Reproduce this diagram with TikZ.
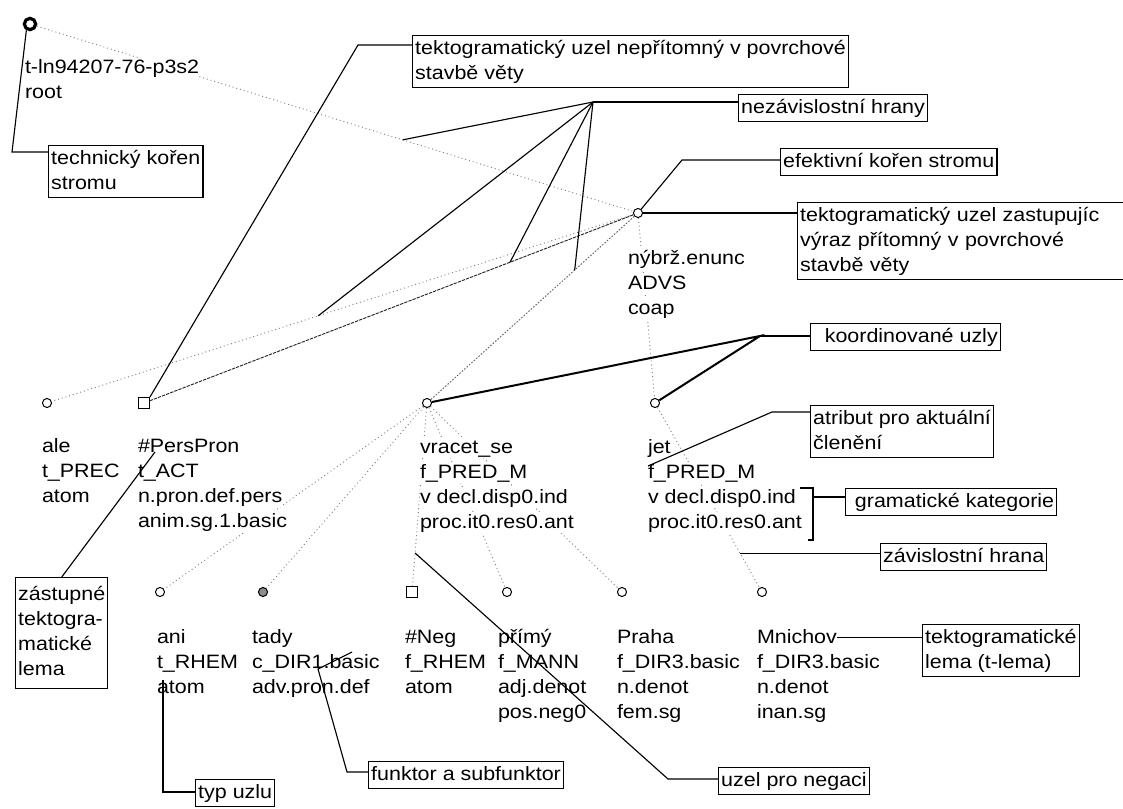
\documentclass[tikz,border=0pt]{standalone}
\usepackage{fontspec}
\setmainfont{Liberation Sans}[FakeStretch=1.11]
\usetikzlibrary{calc}

% one node per text line, each line on its own white band
\newcommand\tlines[4]{%
  \foreach \lbl [count=\i] in {#4} {%
    \node[lab] (#1-\i) at (#2, {#3+6+25*(\i-1)}) {\lbl};
  }%
}

\begin{document}
\begin{tikzpicture}[x=0.75pt, y=-0.75pt,
  font=\fontsize{14.5}{18.75}\selectfont,
  tedge/.style={draw=black!50, line width=0.7pt, dash pattern=on 0.7pt off 2.2pt},
  edgemid/.style={draw=black!60, line width=0.7pt, dash pattern=on 1.2pt off 1.2pt},
  edgedark/.style={draw=black!85, line width=0.7pt, dash pattern=on 2.5pt off 0.8pt},
  tnode/.style={circle, draw, line width=0.75pt, fill=white, inner sep=0pt, minimum size=6.8pt},
  tsq/.style={rectangle, draw, line width=0.75pt, fill=white, inner sep=0pt, minimum size=8.2pt},
  troot/.style={circle, draw, line width=2.4pt, fill=white, inner sep=0pt, minimum size=8.5pt},
  lab/.style={anchor=base west, inner sep=0pt, outer sep=0pt, fill=white, text height=12pt, text depth=4pt},
  note/.style={draw, line width=0.8pt, fill=white, anchor=north west, align=left, inner xsep=2pt, inner ysep=0.8pt},
  ptr/.style={line width=0.85pt},
  thickptr/.style={line width=1.5pt}
]
\path[use as bounding box] (0,0) rectangle (1123,809);
\clip (0,0) rectangle (1123,809);
\fill[white] (0,0) rectangle (1123,809);

% tree nodes
\node[troot] (R) at (30,24) {};
\node[tnode] (N) at (638,213) {};
\node[tnode] (A) at (47,403) {};
\node[tsq]   (P) at (144,403) {};
\node[tnode] (V) at (427,403) {};
\node[tnode] (J) at (655,403) {};
\node[tnode] (I) at (160,592) {};
\node[tnode, fill=black!45] (T) at (263,592) {};
\node[tsq]   (G) at (412,592) {};
\node[tnode] (M) at (507,592) {};
\node[tnode] (H) at (622,592) {};
\node[tnode] (C) at (762,592) {};

% tree edges
\draw[tedge] (R) -- (N);
\draw[tedge] (N) -- (A);
\draw[edgedark] (N) -- (P);
\draw[edgemid] (N) -- (V);
\draw[tedge] (N) -- (J);
\draw[tedge] (V) -- (I);
\draw[tedge] (V) -- (T);
\draw[tedge] (V) -- (G);
\draw[tedge] (V) -- (M);
\draw[tedge] (V) -- (H);
\draw[tedge] (J) -- (C);

% node labels
\tlines{rl}{25}{68}{t-ln94207-76-p3s2,root}
\tlines{nl}{628}{258}{nýbrž.enunc,ADVS,coap}
\tlines{al}{42}{446}{ale,t\_PREC,atom}
\tlines{pl}{138}{446}{\#PersPron,t\_ACT,n.pron.def.pers,anim.sg.1.basic}
\tlines{vl}{420}{447}{vracet\_se,f\_PRED\_M,v decl.disp0.ind,proc.it0.res0.ant}
\tlines{jl}{648}{447}{jet,f\_PRED\_M,v decl.disp0.ind,proc.it0.res0.ant}
\tlines{il}{157}{637}{ani,t\_RHEM,atom}
\tlines{tl}{252}{637}{tady,c\_DIR1.basic,adv.pron.def}
\tlines{gl}{405}{637}{\#Neg,f\_RHEM,atom}
\tlines{ml}{498}{637}{přímý,f\_MANN,adj.denot,pos.neg0}
\tlines{hl}{617}{637}{Praha,f\_DIR3.basic,n.denot,fem.sg}
\tlines{cl}{757}{637}{Mnichov,f\_DIR3.basic,n.denot,inan.sg}

% explanatory boxes
\node[note] (tech)  at (48,145)  {\strut technický kořen\\\strut stromu};
\node[note] (nepr)  at (412,35)  {\strut tektogramatický uzel nepřítomný v povrchové\\\strut stavbě věty};
\node[note] (nez)   at (738,94)  {\strut nezávislostní hrany};
\node[note] (efek)  at (780,148) {\strut efektivní kořen stromu};
\node[note, text width=247pt] (zast) at (797,202)
  {\strut tektogramatický uzel zastupujíc\\\strut výraz přítomný v povrchové\\\strut stavbě věty};
\node[note] (koord) at (810,323) {\strut\hspace*{0.6em}koordinované uzly};
\node[note] (atrib) at (810,405) {\strut atribut pro aktuální\\\strut členění};
\node[note] (gram)  at (845,488) {\strut\hspace*{0.35em}gramatické kategorie};
\node[note] (zavis) at (880,543) {\strut závislostní hrana};
\node[note] (tlema) at (922,624) {\strut tektogramatické\\\strut lema (t-lema)};
\node[note, inner ysep=4pt] (zastl) at (15,577) {\strut zástupné\\\strut tektogra-\\\strut matické\\\strut lema};
\node[note] (typ)   at (195,779) {\strut typ uzlu};
\node[note] (funk)  at (368,761) {\strut funktor a subfunktor};
\node[note] (neg)   at (718,767) {\strut uzel pro negaci};

% pointers
\coordinate (c-tech) at (12,152);
\draw[ptr] (R.240) -- (c-tech) -- (c-tech -| tech.west);

\coordinate (c-nepr) at (358,45);
\draw[ptr] (P.north east) -- (c-nepr) -- (c-nepr -| nepr.west);

\coordinate (Z) at (593,102);
\draw[ptr] (Z) -- (Z -| nez.west);
\draw[ptr] (Z) -- ($(R)!0.613!(N)$);
\draw[ptr] (Z) -- ($(N)!0.541!(A)$);
\draw[ptr] (Z) -- ($(N)!0.259!(P)$);
\draw[ptr] (Z) -- ($(N)!0.3!(V)$);

\coordinate (c-efek) at (682,160);
\draw[ptr] (N) -- (c-efek) -- (c-efek -| efek.west);
\draw[ptr] (N.east) -- (N.east -| zast.west);

\coordinate (K) at (760,336);
\draw[thickptr] (V) -- (K) -- (J);
\draw[ptr] (K) -- (K -| koord.west);

\coordinate (c-atrib) at (772,412);
\draw[ptr] (648,466) -- (c-atrib) -- (c-atrib -| atrib.west);

\draw[ptr] (800,488) -- (813,488) -- (813,540) -- (808,540);
\coordinate (c-gram) at (813,497);
\draw[ptr] (c-gram) -- (c-gram -| gram.west);

\coordinate (c-zavis) at ($(J)!0.794!(C)$);
\draw[ptr] (c-zavis) -- (c-zavis -| zavis.west);

\draw[ptr] (cl-1.east) -- (cl-1.east -| tlema.west);

\draw[ptr] (zastl.north) -- (155,452);

\coordinate (c-typ) at (163,792);
\draw[ptr] (163,680) -- (c-typ) -- (c-typ -| typ.west);

\coordinate (c-funk) at (347,772);
\draw[ptr] (352,652) -- (318,669) -- (c-funk) -- (c-funk -| funk.west);

\coordinate (c-neg) at (668,779);
\draw[ptr] ($(V)!0.794!(G)$) -- (c-neg) -- (c-neg -| neg.west);
\end{tikzpicture}
\end{document}
